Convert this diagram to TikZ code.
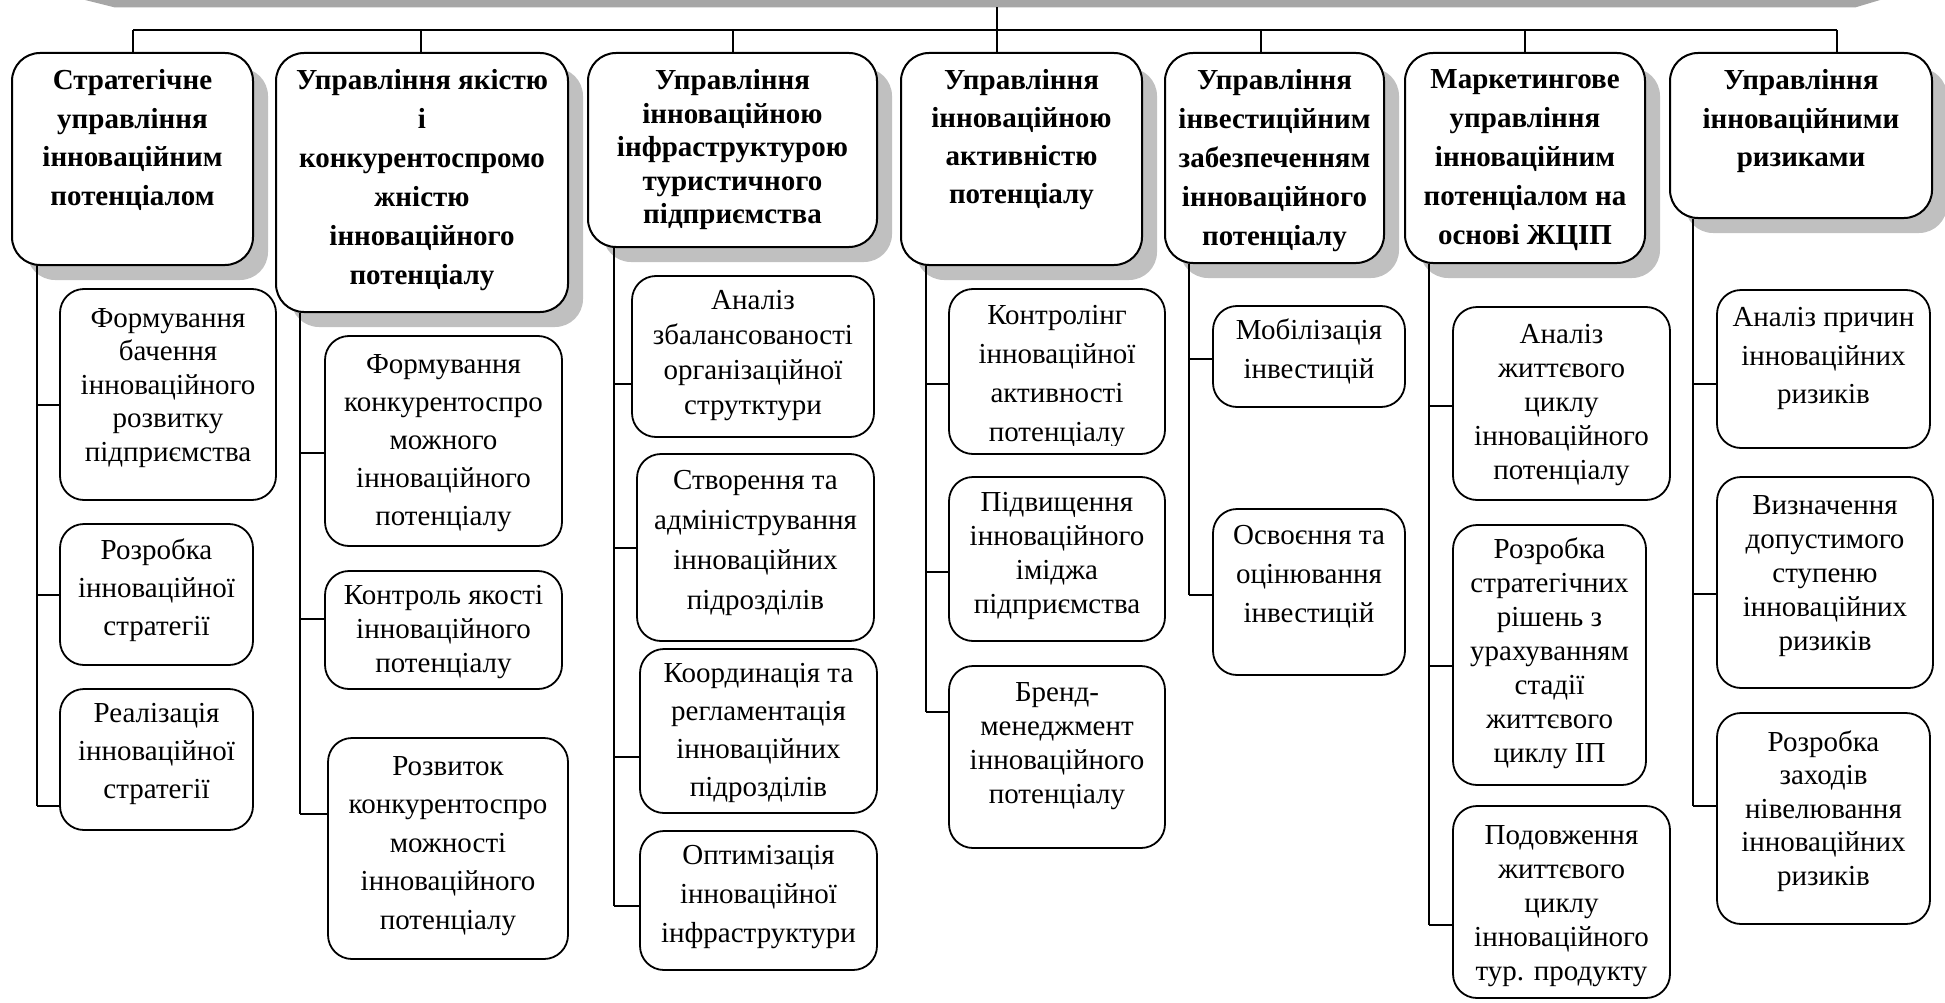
\documentclass[tikz,border=0pt]{standalone}
\usepackage{fontspec}
\setmainfont{Liberation Serif}
\usetikzlibrary{shadows}
\definecolor{bannergray}{HTML}{A6A6A6}
\definecolor{shadowgray}{HTML}{C0C0C0}
\tikzset{
  mainbox/.style={draw=black, line width=2pt, rounded corners=28pt, fill=white, inner sep=0pt,
     drop shadow={shadow xshift=15pt, shadow yshift=-15pt, fill=shadowgray, opacity=1}},
  subbox/.style={draw=black, line width=1.8pt, rounded corners=24pt, fill=white, inner sep=0pt},
  maintext/.style={align=center, inner sep=0pt},
  subtext/.style={align=center, inner sep=0pt},
  link/.style={draw=black, line width=1.5pt},
  bus/.style={draw=black, line width=2.5pt},
}
\newcommand\MainBox[8]{%
  \node[mainbox, minimum width={(#4-#2)*1pt}, minimum height={(#5-#3)*1pt}] (#1) at ({(#2+#4)/2},{(#3+#5)/2}) {};
  \node[maintext, font=\fontsize{29}{#7}\selectfont\bfseries] (#1t) at ({(#2+#4)/2},#6) {#8};
}
\newcommand\SubBox[8]{%
  \node[subbox, minimum width={(#4-#2)*1pt}, minimum height={(#5-#3)*1pt}] (#1) at ({(#2+#4)/2},{(#3+#5)/2}) {};
  \node[subtext, font=\fontsize{29}{#7}\selectfont] (#1t) at ({(#2+#4)/2},#6) {#8};
}
\newcommand\SubFrame[5]{%
  \node[subbox, minimum width={(#4-#2)*1pt}, minimum height={(#5-#3)*1pt}] (#1) at ({(#2+#4)/2},{(#3+#5)/2}) {};
}
\begin{document}
\begin{tikzpicture}[x=1pt,y=-1pt]
\fill[white] (0,0) rectangle (1945,1003);
\useasboundingbox (0,0) rectangle (1945,1003);
% banner
\fill[bannergray] (85,0) -- (1880,0) -- (1855,7.5) -- (115,7.5) -- cycle;
\coordinate (ttop) at (997,7.5);
\coordinate (tbus) at (997,30);
\coordinate (bl) at (133,30);
\coordinate (br) at (1837,30);
\draw[link] (ttop) -- (tbus);
\draw[bus] (bl) -- (br);
% level 1
\MainBox{B1}{12}{53}{253}{265}{140}{38.5}{Стратегічне\\управління\\інноваційним\\потенціалом}
\MainBox{B2}{276}{53}{568}{312}{180.5}{39}{Управління якістю\\і\\конкурентоспромо\\жністю\\інноваційного\\потенціалу}
\MainBox{B3}{588}{53}{877}{247}{150}{33.5}{Управління\\інноваційною\\інфраструктурою\\туристичного\\підприємства}
\MainBox{B4}{901}{53}{1142}{265}{140}{38}{Управління\\інноваційною\\активністю\\потенціалу}
\MainBox{B5}{1165}{53}{1384}{263}{160.5}{39}{Управління\\інвестиційним\\забезпеченням\\інноваційного\\потенціалу}
\MainBox{B6}{1405}{53}{1645}{263}{160.5}{39}{Маркетингове\\управління\\інноваційним\\потенціалом на\\основі ЖЦІП}
\MainBox{B7}{1670}{53}{1932}{218}{121.5}{38.5}{Управління\\інноваційними\\ризиками}
% drops
\coordinate (d1) at (133,30);
\coordinate (d2) at (421,30);
\coordinate (d3) at (733,30);
\coordinate (d4) at (997,30);
\coordinate (d5) at (1261,30);
\coordinate (d6) at (1525,30);
\coordinate (d7) at (1837,30);
\foreach \i in {1,...,7}{\draw[link] (d\i) -- (d\i |- B\i.north);}
% level 2
\SubBox{c11}{60}{289}{276}{500}{388}{33.5}{Формування\\бачення\\інноваційного\\розвитку\\підприємства}
\SubBox{c12}{60}{524}{253}{665}{590}{38}{Розробка\\інноваційної\\стратегії}
\SubBox{c13}{60}{689}{253}{830}{754}{38}{Реалізація\\інноваційної\\стратегії}
\SubBox{c21}{325}{336}{562}{546}{443.5}{38}{Формування\\конкурентоспро\\можного\\інноваційного\\потенціалу}
\SubBox{c22}{325}{571}{562}{689}{632}{34}{Контроль якості\\інноваційного\\потенціалу}
\SubBox{c23}{328}{738}{568}{959}{846}{38.5}{Розвиток\\конкурентоспро\\можності\\інноваційного\\потенціалу}
\SubBox{c31}{632}{276}{874}{437}{355.5}{35}{Аналіз\\збалансованості\\організаційної\\струтктури}
\SubBox{c32}{637}{454}{874}{641}{543}{40}{Створення та\\адміністрування\\інноваційних\\підрозділів}
\SubBox{c33}{640}{649}{877}{813}{733}{38}{Координація та\\регламентація\\інноваційних\\підрозділів}
\SubBox{c34}{640}{831}{877}{970}{897}{39}{Оптимізація\\інноваційної\\інфраструктури}
\SubFrame{c41}{949}{289}{1165}{454}
\begin{scope}
\clip (949,289) rectangle (1165,445);
\node[subtext, font=\fontsize{29}{39}\selectfont] (c41t) at (1057,376.5) {Контролінг\\інноваційної\\активності\\потенціалу};
\end{scope}
\SubBox{c42}{949}{477}{1165}{641}{556}{34}{Підвищення\\інноваційного\\іміджа\\підприємства}
\SubBox{c43}{949}{666}{1165}{848}{746}{34}{Бренд-\\менеджмент\\інноваційного\\потенціалу}
\SubBox{c51}{1213}{306}{1405}{407}{351.5}{39}{Мобілізація\\інвестицій}
\SubBox{c52}{1213}{509}{1405}{675}{577}{39}{Освоєння та\\оцінювання\\інвестицій}
\SubBox{c61}{1453}{307}{1670}{500}{405}{34}{Аналіз\\життєвого\\циклу\\інноваційного\\потенціалу}
\SubBox{c62}{1453}{525}{1646}{785}{653.5}{34}{Розробка\\стратегічних\\рішень з\\урахуванням\\стадії\\життєвого\\циклу ІП}
\SubBox{c63}{1453}{806}{1670}{998}{906}{34}{Подовження\\життєвого\\циклу\\інноваційного\\тур. продукту}
\SubBox{c71}{1717}{290}{1930}{448}{358.5}{38.5}{Аналіз причин\\інноваційних\\ризиків}
\SubBox{c72}{1717}{477}{1933}{688}{576}{34}{Визначення\\допустимого\\ступеню\\інноваційних\\ризиків}
\SubBox{c73}{1717}{713}{1930}{924}{811}{33.5}{Розробка\\заходів\\нівелювання\\інноваційних\\ризиків}
% connectors: column 1
\coordinate (k11) at (37,405);
\coordinate (k12) at (37,595);
\coordinate (k13) at (37,806);
\draw[link] (B1.south -| k13) -- (k13);
\foreach \j in {1,2,3}{\draw[link] (k1\j) -- (k1\j -| c1\j.west);}
% column 2
\coordinate (k21) at (300,453);
\coordinate (k22) at (300,619);
\coordinate (k23) at (300,814);
\draw[link] (B2.south -| k23) -- (k23);
\foreach \j in {1,2,3}{\draw[link] (k2\j) -- (k2\j -| c2\j.west);}
% column 3
\coordinate (k31) at (614,384);
\coordinate (k32) at (614,548);
\coordinate (k33) at (614,757);
\coordinate (k34) at (614,906);
\draw[link] (B3.south -| k34) -- (k34);
\foreach \j in {1,2,3,4}{\draw[link] (k3\j) -- (k3\j -| c3\j.west);}
% column 4
\coordinate (k41) at (926,384);
\coordinate (k42) at (926,572);
\coordinate (k43) at (926,712);
\draw[link] (B4.south -| k43) -- (k43);
\foreach \j in {1,2,3}{\draw[link] (k4\j) -- (k4\j -| c4\j.west);}
% column 5
\coordinate (k51) at (1189,359);
\coordinate (k52) at (1189,595);
\draw[link] (B5.south -| k52) -- (k52);
\foreach \j in {1,2}{\draw[link] (k5\j) -- (k5\j -| c5\j.west);}
% column 6
\coordinate (k61) at (1429,406);
\coordinate (k62) at (1429,666);
\coordinate (k63) at (1429,925);
\draw[link] (B6.south -| k63) -- (k63);
\foreach \j in {1,2,3}{\draw[link] (k6\j) -- (k6\j -| c6\j.west);}
% column 7
\coordinate (k71) at (1693,384);
\coordinate (k72) at (1693,594);
\coordinate (k73) at (1693,806);
\draw[link] (B7.south -| k73) -- (k73);
\foreach \j in {1,2,3}{\draw[link] (k7\j) -- (k7\j -| c7\j.west);}
\end{tikzpicture}
\end{document}
